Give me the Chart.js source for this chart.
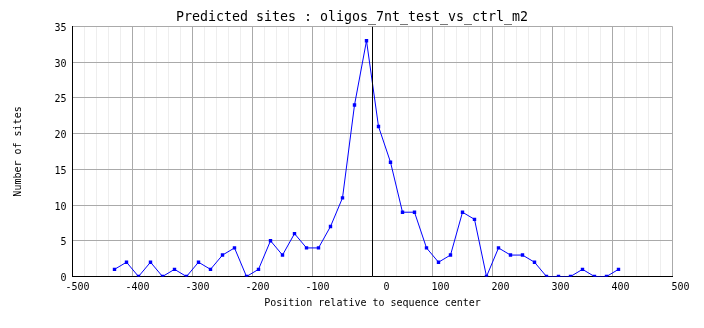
<!DOCTYPE html>
<html>
<head>
<meta charset="utf-8">
<title>Predicted sites</title>
<script src="https://cdn.jsdelivr.net/npm/chart.js@4/dist/chart.umd.min.js"></script>
<style>
    body { margin: 0; background: #fff; }
</style>
</head>
<body>
<canvas id="sites-chart" width="704" height="328"></canvas>
<script>
// bin centres, relative to the sequence center
const positions = [-430, -410, -390, -370, -350, -330, -310, -290, -270, -250,
                   -230, -210, -190, -170, -150, -130, -110, -90, -70, -50,
                   -30, -10, 10, 30, 50, 70, 90, 110, 130, 150,
                   170, 190, 210, 230, 250, 270, 290, 310, 330, 350,
                   370, 390, 410];
// number of predicted sites in each bin
const siteCounts = [1, 2, 0, 2, 0, 1, 0, 2, 1, 3,
                    4, 0, 1, 5, 3, 6, 4, 4, 7, 11,
                    24, 33, 21, 16, 9, 9, 4, 2, 3, 9,
                    8, 0, 4, 3, 3, 2, 0, 0, 0, 1,
                    0, 0, 1];
// vertical marker at the center
const centerX = [0, 0];
const centerY = [0, 35];

const xRange = [-500, 500];
const yRange = [0, 35];
const xLabelStep = 100;

const chartTitle = 'Predicted sites : oligos_7nt_test_vs_ctrl_m2';
const xTitle = 'Position relative to sequence center';
const yTitle = 'Number of sites';

Chart.defaults.font.family = '"DejaVu Sans Mono", monospace';
Chart.defaults.color = '#000';

function toPoints(xs, ys) {
    return xs.map((x, i) => ({x: x, y: ys[i]}));
}

let ctx = document.getElementById('sites-chart').getContext('2d');

new Chart(ctx, {
    type: 'line',
    data: {
        datasets: [{
            data: toPoints(centerX, centerY),
            borderColor: '#000',
            borderWidth: 1,
            pointRadius: 0
        }, {
            data: toPoints(positions, siteCounts),
            borderColor: '#0000ff',
            backgroundColor: '#0000ff',
            borderWidth: 1,
            pointStyle: 'rect',
            pointRadius: 2.4,
            pointBorderWidth: 0,
            tension: 0
        }]
    },
    options: {
        responsive: false,
        animation: false,
        events: [],
        plugins: {
            legend: { display: false },
            tooltip: { enabled: false },
            title: {
                display: true,
                text: chartTitle,
                color: '#000',
                font: { size: 13.3, weight: 'normal' },
                padding: { top: 10, bottom: 0.5 }
            }
        },
        scales: {
            x: {
                type: 'linear',
                min: xRange[0],
                max: xRange[1],
                afterFit: function (scale) {
                    scale.height = 51.5;
                    scale.paddingLeft = 0;
                    scale.paddingRight = 31.5;
                },
                grid: {
                    drawTicks: false,
                    color: c => (c.tick && c.tick.value % xLabelStep === 0) ? '#aaaaaa' : '#eeeeee'
                },
                border: { color: '#000' },
                ticks: {
                    stepSize: 20,
                    autoSkip: false,
                    maxRotation: 0,
                    align: 'end',
                    labelOffset: 17,
                    padding: 5,
                    font: { size: 10 },
                    callback: v => (v % xLabelStep === 0) ? String(v) : ''
                },
                title: {
                    display: true,
                    text: xTitle,
                    font: { size: 10 },
                    padding: { top: 0, bottom: 19 }
                }
            },
            y: {
                min: yRange[0],
                max: yRange[1],
                afterFit: function (scale) {
                    scale.width = 72.5;
                },
                grid: {
                    drawTicks: false,
                    color: '#aaaaaa'
                },
                border: { color: '#000' },
                ticks: {
                    stepSize: 5,
                    padding: 6,
                    labelOffset: 2,
                    font: { size: 10 }
                },
                title: {
                    display: true,
                    text: yTitle,
                    font: { size: 10 },
                    padding: { top: 12, bottom: 0 }
                }
            }
        }
    }
});
</script>
</body>
</html>
